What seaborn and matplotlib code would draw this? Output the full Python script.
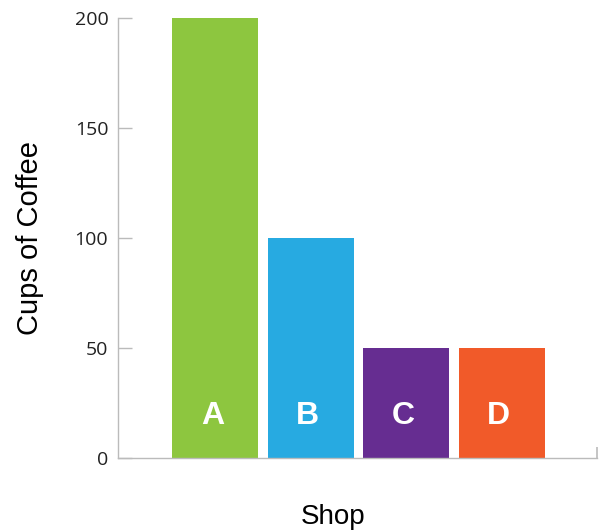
import matplotlib
matplotlib.use("Agg")
import matplotlib.pyplot as plt
import seaborn as sns
import pandas as pd

shops = ["A", "B", "C", "D"]
cups = [200, 100, 50, 50]
colors = ["#8DC63F", "#27AAE1", "#662D91", "#F15A29"]
yticks = [0, 50, 100, 150, 200]

df = pd.DataFrame({"Shop": shops, "Cups": cups})

sns.set_theme(style="white")
fig = plt.figure(figsize=(5.99, 5.31), dpi=100)
ax = fig.add_axes([118/599, 73/531, 479/599, 440/531])

sns.barplot(data=df, x="Shop", y="Cups", hue="Shop", palette=colors,
            width=0.9, saturation=1, legend=False, linewidth=0, ax=ax)

for i, s in enumerate(shops):
    ax.text(i - 0.03, 15.5, s, ha="center", va="baseline", color="white",
            fontsize=23, fontweight="bold", family="Liberation Sans")

ax.set_xlim(-1.02, 4.0)
ax.set_ylim(0, 200)
ax.set_yticks(yticks)
ax.set_yticklabels([str(v) for v in yticks], family="Open Sans", fontsize=14, color="#222222")
ax.set_xticks([4.0])
ax.set_xticklabels([""])
ax.tick_params(axis="y", direction="in", length=10, width=1, color="#bbbbbb", pad=7, left=True)
ax.tick_params(axis="x", direction="in", length=8, width=1.2, color="#bbbbbb", bottom=True)

ax.spines["top"].set_visible(False)
ax.spines["right"].set_visible(False)
for side in ["left", "bottom"]:
    ax.spines[side].set_color("#bbbbbb")
    ax.spines[side].set_linewidth(1)

ax.set_ylabel("Cups of Coffee", family="Liberation Sans", fontsize=21, color="black")
ax.set_xlabel("Shop", family="Liberation Sans", fontsize=20, color="black")
ax.yaxis.set_label_coords((30 - 118) / 479, (531 - 238 - 73) / 440)
ax.xaxis.set_label_coords((333 - 118) / 479, (531 - 517 - 73) / 440)
ax.yaxis.label.set_va("center")
ax.xaxis.label.set_va("center")

fig.savefig("out.png", dpi=100)
